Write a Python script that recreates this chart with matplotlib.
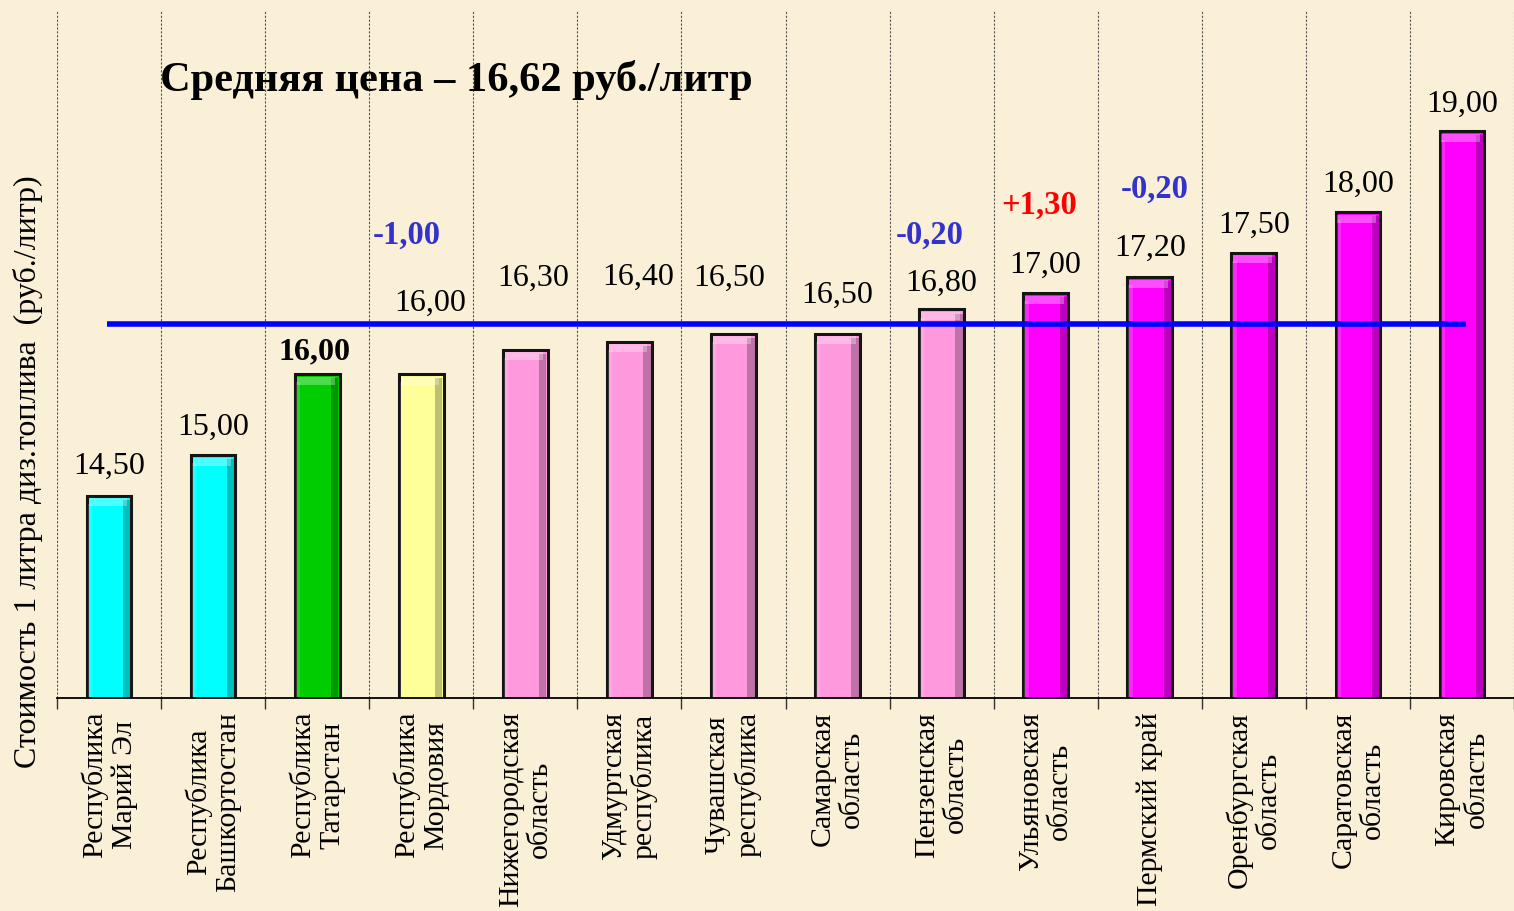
import matplotlib
matplotlib.use("Agg")
import matplotlib.pyplot as plt
import numpy as np

# regions and diesel price, rub/litre
regions = [
    "Республика\nМарий Эл",
    "Республика\nБашкортостан",
    "Республика\nТатарстан",
    "Республика\nМордовия",
    "Нижегородская\nобласть",
    "Удмуртская\nреспублика",
    "Чувашская\nреспублика",
    "Самарская\nобласть",
    "Пензенская\nобласть",
    "Ульяновская\nобласть",
    "Пермский край",
    "Оренбургская\nобласть",
    "Саратовская\nобласть",
    "Кировская\nобласть",
]
prices = [14.50, 15.00, 16.00, 16.00, 16.30, 16.40, 16.50, 16.50,
          16.80, 17.00, 17.20, 17.50, 18.00, 19.00]
price_labels = ["14,50", "15,00", "16,00", "16,00", "16,30", "16,40", "16,50",
                "16,50", "16,80", "17,00", "17,20", "17,50", "18,00", "19,00"]
bar_colors = ["#00FFFF", "#00FFFF", "#00CC00", "#FFFF99",
              "#FF99DD", "#FF99DD", "#FF99DD", "#FF99DD", "#FF99DD",
              "#FF00FF", "#FF00FF", "#FF00FF", "#FF00FF", "#FF00FF"]
average = 16.62

# price changes shown above some bars
change_idx = [3, 8, 9, 10]
change_text = ["-1,00", "-0,20", "+1,30", "-0,20"]
change_colors = ["#3333CC", "#3333CC", "#FF0000", "#3333CC"]

# where the value labels sit (the source places some of them by hand)
label_y = [14.86, 15.34, 16.28, 16.88, 17.18, 17.20, 17.18, 16.97,
           17.12, 17.34, 17.56, 17.84, 18.35, 19.34]
label_dx = [0, 0, -0.03, 0.09, 0.08, 0.08, -0.04, 0, 0, 0, 0, 0, 0, 0]
change_y = [17.72, 17.72, 18.09, 18.29]
change_dx = [-0.14, -0.11, -0.06, 0.05]

SERIF = ["Liberation Serif", "DejaVu Serif"]
BG = "#FAF0D7"

fig = plt.figure(figsize=(15.14, 9.11), dpi=100, facecolor=BG)
ax = fig.add_axes([57 / 1514, 213 / 911, 1457 / 1514, 688 / 911])
ax.set_facecolor(BG)

x = np.arange(len(regions))
width = 0.43
ymin, ymax = 12, 20.5

ax.bar(x, prices, width=width, color=bar_colors, edgecolor="#151515",
       linewidth=2.2, zorder=3)
# bevel: dark strip on the right, light strips on top and left
shade_w = 0.07
ax.bar(x + width / 2 - shade_w / 2 - 0.012, np.array(prices) - ymin - 0.05,
       bottom=ymin, width=shade_w, color="black", alpha=0.25, linewidth=0, zorder=4)
ax.bar(x - width / 2 + 0.03, np.array(prices) - ymin - 0.1, bottom=ymin,
       width=0.04, color="white", alpha=0.15, linewidth=0, zorder=4)
ax.bar(x - 0.012, 0.1, bottom=np.array(prices) - 0.13, width=width - 0.06,
       color="white", alpha=0.3, linewidth=0, zorder=4)

# average line
ax.plot([x[0] - 0.02, x[-1] + 0.04], [average, average], color="#0000FF",
        linewidth=4, solid_capstyle="butt", zorder=5)

for i, txt in enumerate(price_labels):
    bold = (i == 2)
    ax.text(x[i] + label_dx[i], label_y[i], txt, ha="center", va="center",
            fontsize=23, family=SERIF, fontweight="bold" if bold else "normal",
            zorder=6)

for k, i in enumerate(change_idx):
    ax.text(x[i] + change_dx[k], change_y[k], change_text[k], ha="center",
            va="center", fontsize=23.5, family=SERIF, fontweight="bold",
            color=change_colors[k], zorder=6)

ax.text(0.0707, 0.898, "Средняя цена – 16,62 руб./литр", transform=ax.transAxes,
        ha="left", va="center", fontsize=30.5, family=SERIF, fontweight="bold")

ax.set_xlim(-0.5, len(regions) - 0.5)
ax.set_ylim(ymin, ymax)

# category boundaries: dashed grid and outward ticks
bounds = np.arange(len(regions) + 1) - 0.5
ax.set_xticks(bounds, minor=True)
ax.set_xticks(x)
ax.set_xticklabels(regions, rotation=90, family=SERIF, fontsize=21.5,
                   ha="center", va="top", linespacing=1.15)
ax.tick_params(axis="x", which="major", length=0, pad=10)
ax.tick_params(axis="x", which="minor", length=8, width=1, color="#333333",
               direction="out")
ax.grid(True, axis="x", which="minor", linestyle=(0, (2, 1.5)), color="#555555",
        linewidth=0.8, zorder=0)
ax.set_yticks([])

for s in ["top", "right", "left"]:
    ax.spines[s].set_visible(False)
ax.spines["bottom"].set_linewidth(1.3)
ax.spines["bottom"].set_zorder(6)

fig.text(28 / 1514, 1 - 472 / 911, "Стоимость 1 литра диз.топлива  (руб./литр)",
         rotation=90, ha="center", va="center", fontsize=23, family=SERIF)

fig.savefig("out.png", dpi=100, facecolor=BG)
